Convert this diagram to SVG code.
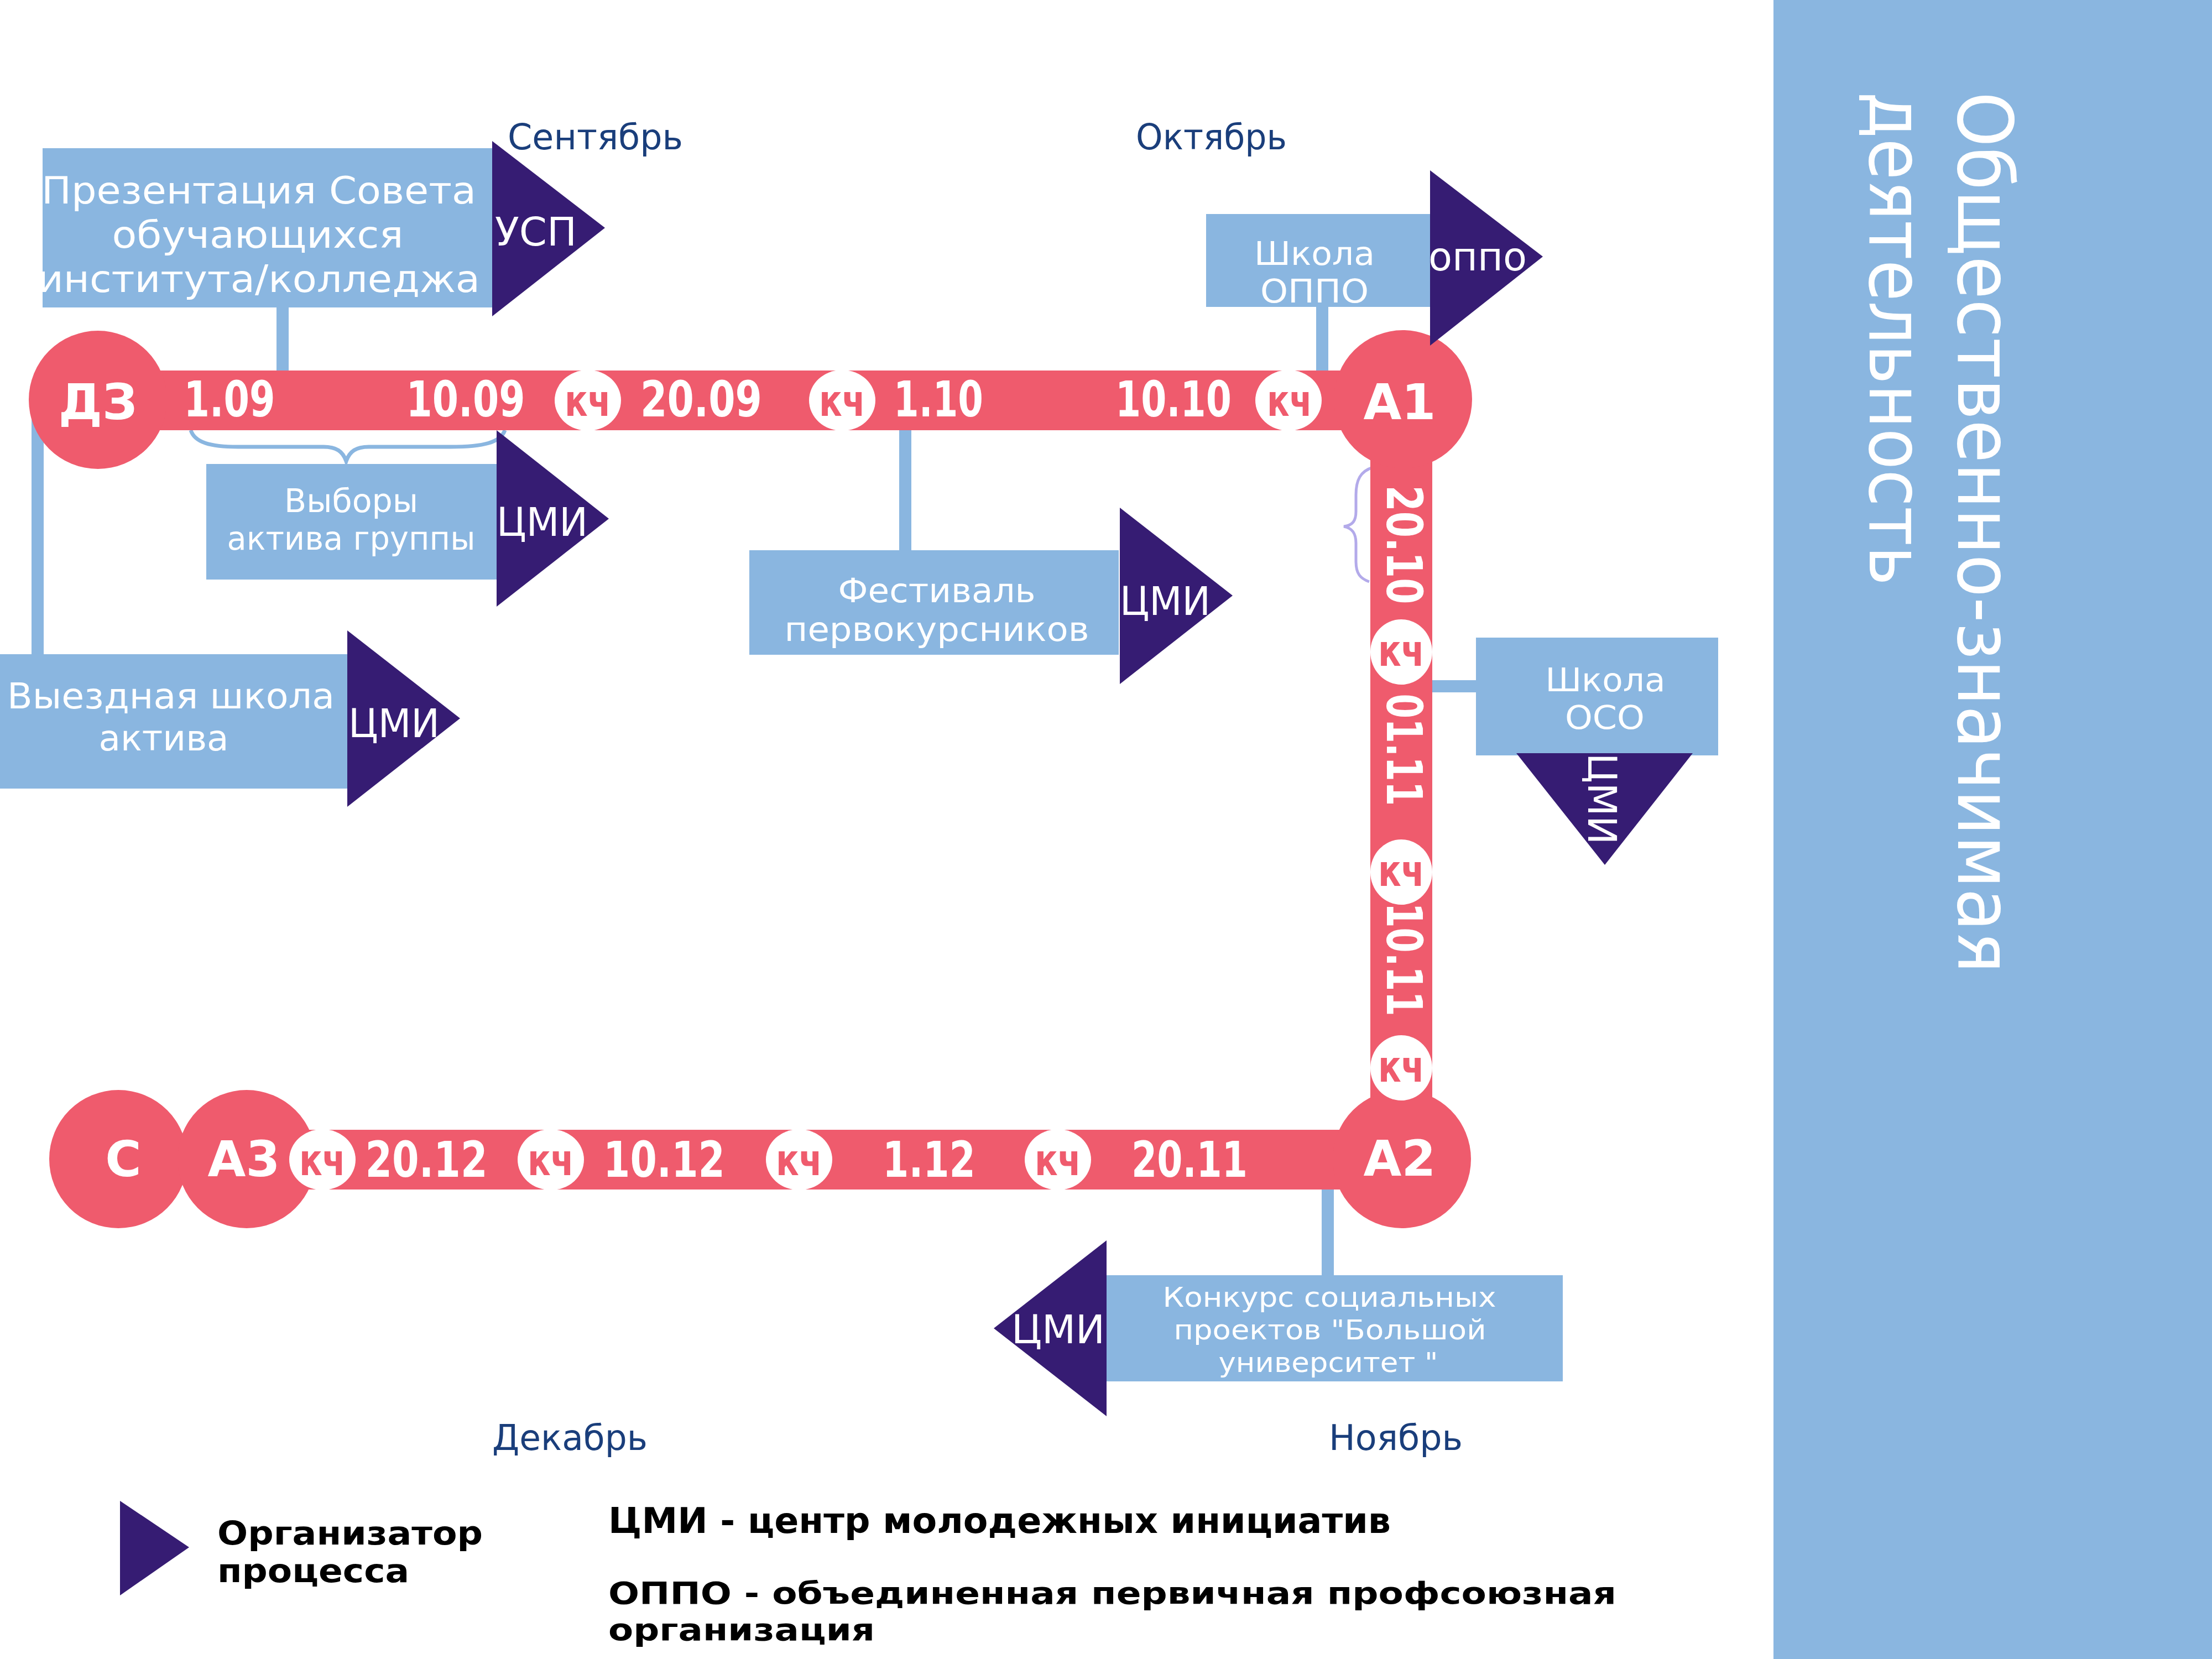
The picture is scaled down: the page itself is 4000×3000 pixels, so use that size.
<svg xmlns="http://www.w3.org/2000/svg" width="4000" height="3000" viewBox="0 0 4000 3000">
<defs>
<style>
.box{fill:#8AB6E0}
.org{fill:#361C73}
.red{fill:#EF5B6D}
.kc{fill:#FFFFFF}
.bt{font-family:"DejaVu Sans",Verdana,sans-serif;fill:#FFFFFF;text-anchor:middle}
.ot{font-family:"DejaVu Sans",Verdana,sans-serif;fill:#FFFFFF;font-size:72px}
.dt{font-family:"DejaVu Sans",Verdana,sans-serif;font-weight:bold;fill:#FFFFFF;font-size:89px;text-anchor:middle}
.ct{font-family:"DejaVu Sans",Verdana,sans-serif;font-weight:bold;fill:#FFFFFF;font-size:89px;text-anchor:middle}
.kt{font-family:"DejaVu Sans",Verdana,sans-serif;font-weight:bold;fill:#EF5B6D;font-size:78px;text-anchor:middle}
.mt{font-family:"DejaVu Sans",Verdana,sans-serif;fill:#1A3E7B;font-size:64px}
.lt{font-family:"DejaVu Sans",Verdana,sans-serif;font-weight:bold;fill:#000000}
.pt{font-family:"DejaVu Sans",Verdana,sans-serif;fill:#FFFFFF;font-size:137px}
.conn{stroke:#8AB6E0;stroke-width:22;fill:none}
</style>
<clipPath id="clipPres"><rect x="77" y="268" width="813" height="288"/></clipPath>
</defs>
<rect width="4000" height="3000" fill="#FFFFFF"/>

<g id="panel">
<rect x="3207" y="0" width="793" height="3000" class="box"/>
<text class="pt" transform="translate(3541,166) rotate(90)"><tspan x="0" y="0" textLength="1594" lengthAdjust="spacingAndGlyphs">Общественно-значимая</tspan><tspan x="0" y="160" textLength="893" lengthAdjust="spacingAndGlyphs">деятельность</tspan></text>
</g>

<g id="months">
<text class="mt" x="918" y="270" textLength="317" lengthAdjust="spacingAndGlyphs">Сентябрь</text>
<text class="mt" x="2054" y="270" textLength="273" lengthAdjust="spacingAndGlyphs">Октябрь</text>
<text class="mt" x="890" y="2622" textLength="281" lengthAdjust="spacingAndGlyphs">Декабрь</text>
<text class="mt" x="2403" y="2622" textLength="242" lengthAdjust="spacingAndGlyphs">Ноябрь</text>
</g>

<g id="connectors">
<line class="conn" x1="511" y1="550" x2="511" y2="675"/>
<line class="conn" x1="68" y1="740" x2="68" y2="1183" stroke-width="28" stroke-linecap="round"/>
<line class="conn" x1="1637" y1="775" x2="1637" y2="998"/>
<line class="conn" x1="2391" y1="550" x2="2391" y2="675"/>
<line class="conn" x1="2585" y1="1241" x2="2672" y2="1241" stroke-width="24"/>
<line class="conn" x1="2401" y1="2148" x2="2401" y2="2309"/>
<path d="M 345 778 C 352 800, 380 808, 430 808 L 585 808 C 608 808, 620 816, 626 834 C 632 816, 644 808, 667 808 L 815 808 C 875 808, 905 800, 913 778" fill="none" stroke="#8AB6E0" stroke-width="7"/>
<path d="M 2483 845 C 2460 852, 2452 868, 2452 895 L 2452 925 C 2452 942, 2446 950, 2430 952 C 2446 955, 2452 965, 2452 982 L 2452 1015 C 2452 1038, 2460 1046, 2476 1052" fill="none" stroke="#B3AAEA" stroke-width="5"/>
</g>

<g id="track">
<rect class="red" x="178" y="670" width="2360" height="108"/>
<rect class="red" x="2478" y="722" width="112" height="1374"/>
<rect class="red" x="446" y="2043" width="2090" height="108"/>
</g>

<g id="node-dz">
<circle class="red" cx="177" cy="723" r="125"/>
<text class="ct" x="177" y="758">ДЗ</text>
</g>
<g id="node-a1">
<circle class="red" cx="2537" cy="722" r="125"/>
<text class="ct" x="2531" y="758">А1</text>
</g>
<g id="node-a2">
<circle class="red" cx="2535" cy="2096" r="125"/>
<text class="ct" x="2531" y="2126">А2</text>
</g>
<g id="node-c">
<circle class="red" cx="214" cy="2096" r="125"/>
<text class="ct" x="223" y="2127">С</text>
</g>
<g id="node-a3">
<circle class="red" cx="446" cy="2096" r="125"/>
<text class="ct" x="441" y="2127">А3</text>
</g>

<g id="checkpoints">
<ellipse class="kc" cx="1063" cy="724" rx="60" ry="55"/>
<text class="kt" x="1063" y="752" textLength="84" lengthAdjust="spacingAndGlyphs">кч</text>
<ellipse class="kc" cx="1523" cy="724" rx="60" ry="55"/>
<text class="kt" x="1523" y="752" textLength="84" lengthAdjust="spacingAndGlyphs">кч</text>
<ellipse class="kc" cx="2330" cy="724" rx="60" ry="55"/>
<text class="kt" x="2332" y="752" textLength="82" lengthAdjust="spacingAndGlyphs">кч</text>
<ellipse class="kc" cx="2534" cy="1179" rx="56" ry="59"/>
<text class="kt" x="2534" y="1204" textLength="84" lengthAdjust="spacingAndGlyphs">кч</text>
<ellipse class="kc" cx="2534" cy="1577" rx="56" ry="59"/>
<text class="kt" x="2534" y="1602" textLength="84" lengthAdjust="spacingAndGlyphs">кч</text>
<ellipse class="kc" cx="2534" cy="1931" rx="56" ry="59"/>
<text class="kt" x="2534" y="1956" textLength="84" lengthAdjust="spacingAndGlyphs">кч</text>
<ellipse class="kc" cx="583" cy="2097" rx="60" ry="55"/>
<text class="kt" x="583" y="2125" textLength="84" lengthAdjust="spacingAndGlyphs">кч</text>
<ellipse class="kc" cx="996" cy="2097" rx="60" ry="55"/>
<text class="kt" x="996" y="2125" textLength="84" lengthAdjust="spacingAndGlyphs">кч</text>
<ellipse class="kc" cx="1445" cy="2097" rx="60" ry="55"/>
<text class="kt" x="1445" y="2125" textLength="84" lengthAdjust="spacingAndGlyphs">кч</text>
<ellipse class="kc" cx="1913" cy="2097" rx="60" ry="55"/>
<text class="kt" x="1913" y="2125" textLength="84" lengthAdjust="spacingAndGlyphs">кч</text>
</g>

<g id="dates">
<text class="dt" x="415" y="753" textLength="165" lengthAdjust="spacingAndGlyphs">1.09</text>
<text class="dt" x="842" y="753" textLength="215" lengthAdjust="spacingAndGlyphs">10.09</text>
<text class="dt" x="1268" y="753" textLength="220" lengthAdjust="spacingAndGlyphs">20.09</text>
<text class="dt" x="1697" y="753" textLength="162" lengthAdjust="spacingAndGlyphs">1.10</text>
<text class="dt" x="2122" y="753" textLength="210" lengthAdjust="spacingAndGlyphs">10.10</text>
<text class="dt" transform="translate(2508,985) rotate(90)" textLength="215" lengthAdjust="spacingAndGlyphs">20.10</text>
<text class="dt" transform="translate(2508,1356) rotate(90)" textLength="203" lengthAdjust="spacingAndGlyphs">01.11</text>
<text class="dt" transform="translate(2508,1735) rotate(90)" textLength="205" lengthAdjust="spacingAndGlyphs">10.11</text>
<text class="dt" x="2151" y="2128" textLength="210" lengthAdjust="spacingAndGlyphs">20.11</text>
<text class="dt" x="1680" y="2128" textLength="168" lengthAdjust="spacingAndGlyphs">1.12</text>
<text class="dt" x="1201" y="2128" textLength="220" lengthAdjust="spacingAndGlyphs">10.12</text>
<text class="dt" x="771" y="2128" textLength="221" lengthAdjust="spacingAndGlyphs">20.12</text>
</g>

<g id="node-presentation">
<rect class="box" x="77" y="268" width="813" height="288"/>
<g clip-path="url(#clipPres)">
<text class="bt" font-size="68"><tspan x="468" y="368" textLength="786" lengthAdjust="spacingAndGlyphs">Презентация Совета</tspan><tspan x="466" y="448" textLength="527" lengthAdjust="spacingAndGlyphs">обучающихся</tspan><tspan x="468" y="528" textLength="800" lengthAdjust="spacingAndGlyphs">института/колледжа</tspan></text>
</g>
<polygon class="org" points="890,255 1094,412 890,572"/>
<text class="ot" x="895" y="444" textLength="148" lengthAdjust="spacingAndGlyphs">УСП</text>
</g>

<g id="node-oppo-school">
<rect class="box" x="2181" y="387" width="405" height="168"/>
<text class="bt" font-size="58"><tspan x="2377" y="479" textLength="218" lengthAdjust="spacingAndGlyphs">Школа</tspan><tspan x="2377" y="547" textLength="196" lengthAdjust="spacingAndGlyphs">ОППО</tspan></text>
<polygon class="org" points="2586,308 2790,464 2586,625"/>
<text class="ot" x="2583" y="489" font-size="84" textLength="178" lengthAdjust="spacingAndGlyphs">оппо</text>
</g>

<g id="node-elections">
<rect class="box" x="373" y="839" width="525" height="209"/>
<text class="bt" font-size="58"><tspan x="635" y="926" textLength="242" lengthAdjust="spacingAndGlyphs">Выборы</tspan><tspan x="635" y="994" textLength="449" lengthAdjust="spacingAndGlyphs">актива группы</tspan></text>
<polygon class="org" points="898,778 1101,938 898,1097"/>
<text class="ot" x="898" y="969" textLength="165" lengthAdjust="spacingAndGlyphs">ЦМИ</text>
</g>

<g id="node-festival">
<rect class="box" x="1355" y="995" width="668" height="189"/>
<text class="bt" font-size="60"><tspan x="1694" y="1089" textLength="357" lengthAdjust="spacingAndGlyphs">Фестиваль</tspan><tspan x="1694" y="1159" textLength="551" lengthAdjust="spacingAndGlyphs">первокурсников</tspan></text>
<polygon class="org" points="2025,918 2229,1077 2025,1237"/>
<text class="ot" x="2025" y="1112" textLength="164" lengthAdjust="spacingAndGlyphs">ЦМИ</text>
</g>

<g id="node-field-school">
<rect class="box" x="0" y="1183" width="628" height="243"/>
<text class="bt" font-size="64"><tspan x="309" y="1281" textLength="592" lengthAdjust="spacingAndGlyphs">Выездная школа</tspan><tspan x="296" y="1357" textLength="235" lengthAdjust="spacingAndGlyphs">актива</tspan></text>
<polygon class="org" points="628,1140 832,1299 628,1459"/>
<text class="ot" x="630" y="1333" textLength="165" lengthAdjust="spacingAndGlyphs">ЦМИ</text>
</g>

<g id="node-oso-school">
<rect class="box" x="2669" y="1153" width="438" height="213"/>
<text class="bt" font-size="58"><tspan x="2903" y="1250" textLength="217" lengthAdjust="spacingAndGlyphs">Школа</tspan><tspan x="2902" y="1318" textLength="144" lengthAdjust="spacingAndGlyphs">ОСО</tspan></text>
<polygon class="org" points="2742,1362 3061,1362 2902,1564"/>
<text class="ot" transform="translate(2872,1362) rotate(90)" textLength="165" lengthAdjust="spacingAndGlyphs">ЦМИ</text>
</g>

<g id="node-contest">
<rect class="box" x="2001" y="2306" width="825" height="192"/>
<text class="bt" font-size="50"><tspan x="2404" y="2363" textLength="603" lengthAdjust="spacingAndGlyphs">Конкурс социальных</tspan><tspan x="2405" y="2422" textLength="565" lengthAdjust="spacingAndGlyphs">проектов "Большой</tspan><tspan x="2402" y="2481" textLength="397" lengthAdjust="spacingAndGlyphs">университет "</tspan></text>
<polygon class="org" points="2001,2243 1797,2402 2001,2561"/>
<text class="ot" x="1829" y="2429" textLength="169" lengthAdjust="spacingAndGlyphs">ЦМИ</text>
</g>

<g id="legend">
<polygon class="org" points="217,2714 342,2798 217,2885"/>
<text class="lt" font-size="58"><tspan x="393" y="2793" textLength="480" lengthAdjust="spacingAndGlyphs">Организатор</tspan><tspan x="393" y="2861" textLength="347" lengthAdjust="spacingAndGlyphs">процесса</tspan></text>
<text class="lt" font-size="64" x="1100" y="2772" textLength="1415" lengthAdjust="spacingAndGlyphs">ЦМИ - центр молодежных инициатив</text>
<text class="lt" font-size="56"><tspan x="1100" y="2900" textLength="1823" lengthAdjust="spacingAndGlyphs">ОППО - объединенная первичная профсоюзная</tspan><tspan x="1100" y="2966" textLength="482" lengthAdjust="spacingAndGlyphs">организация</tspan></text>
</g>
</svg>
